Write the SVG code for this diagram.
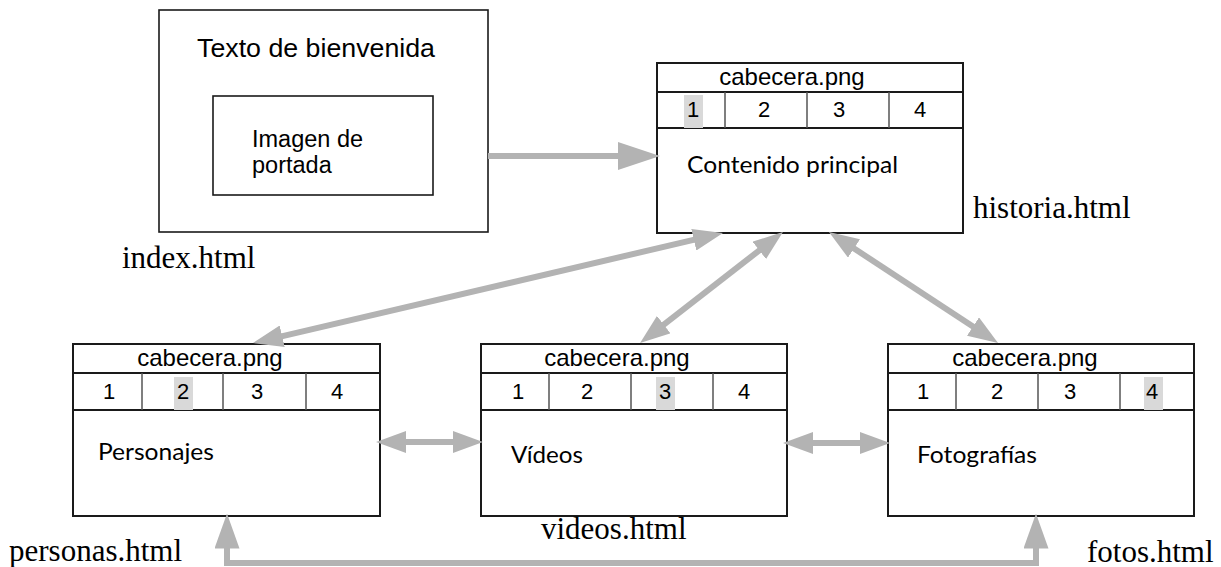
<svg xmlns="http://www.w3.org/2000/svg" width="1221" height="567" viewBox="0 0 1221 567">
<style>
.box{fill:#fff;stroke:#1a1a1a;stroke-width:2}
.thin{fill:none;stroke:#1a1a1a;stroke-width:1.6}
.div{stroke:#555;stroke-width:1.5}
.hl{fill:#d9d9d9}
.ar{font-family:"Liberation Sans",Arial,sans-serif;fill:#000}
.hd{font-size:24px;text-anchor:middle}
.dg{font-size:22px;text-anchor:middle}
.cal{font-family:Lato,"Open Sans",sans-serif;font-size:22.5px;fill:#000}
.lbl{font-family:"Liberation Serif","Times New Roman",serif;font-size:31px;fill:#000}
.con{fill:none;stroke:#b3b3b3;stroke-width:6;stroke-linejoin:miter}
</style>
<defs>
<marker id="h30" viewBox="0 0 30 22" refX="15" refY="11" markerWidth="30" markerHeight="22" markerUnits="userSpaceOnUse" orient="auto-start-reverse"><path d="M0,0 L30,11 L0,22 z" fill="#b3b3b3"/></marker>
<marker id="h42" viewBox="0 0 42 28" refX="21" refY="14" markerWidth="42" markerHeight="28" markerUnits="userSpaceOnUse" orient="auto-start-reverse"><path d="M0,0 L42,14 L0,28 z" fill="#b3b3b3"/></marker>
<marker id="h35" viewBox="0 0 35 25" refX="17.5" refY="12.5" markerWidth="35" markerHeight="25" markerUnits="userSpaceOnUse" orient="auto-start-reverse"><path d="M0,0 L35,12.5 L0,25 z" fill="#b3b3b3"/></marker>
</defs>
<rect width="1221" height="567" fill="#fff"/>

<g id="index">
<rect class="thin" x="159" y="10" width="329" height="222"/>
<text class="ar" x="197" y="57" font-size="25" textLength="238" lengthAdjust="spacingAndGlyphs">Texto de bienvenida</text>
<rect class="thin" x="213" y="96" width="220" height="99"/>
<text class="ar" x="252" y="147" font-size="23.5">Imagen de</text>
<text class="ar" x="252" y="173" font-size="23.5">portada</text>
<text class="lbl" x="122" y="268">index.html</text>
</g>

<g id="historia">
<rect class="box" x="657" y="63" width="306" height="170"/>
<line class="box" x1="657" y1="92" x2="963" y2="92"/>
<line class="box" x1="657" y1="128" x2="963" y2="128"/>
<rect class="hl" x="684" y="95" width="19" height="33"/>
<line class="div" x1="725" y1="92" x2="725" y2="128"/>
<line class="div" x1="807" y1="92" x2="807" y2="128"/>
<line class="div" x1="889" y1="92" x2="889" y2="128"/>
<text class="ar hd" x="792" y="85">cabecera.png</text>
<text class="ar dg" x="693" y="117">1</text>
<text class="ar dg" x="764" y="117">2</text>
<text class="ar dg" x="839" y="117">3</text>
<text class="ar dg" x="920" y="117">4</text>
<text class="cal" x="687" y="173" textLength="211" lengthAdjust="spacingAndGlyphs">Contenido principal</text>
<text class="lbl" x="973" y="218">historia.html</text>
</g>

<g id="personas">
<rect class="box" x="73" y="344" width="307" height="172"/>
<line class="box" x1="73" y1="373" x2="380" y2="373"/>
<line class="box" x1="73" y1="410" x2="380" y2="410"/>
<rect class="hl" x="174" y="377" width="19" height="33"/>
<line class="div" x1="142" y1="373" x2="142" y2="410"/>
<line class="div" x1="223" y1="373" x2="223" y2="410"/>
<line class="div" x1="306" y1="373" x2="306" y2="410"/>
<text class="ar hd" x="210" y="366">cabecera.png</text>
<text class="ar dg" x="109" y="399">1</text>
<text class="ar dg" x="183" y="399">2</text>
<text class="ar dg" x="257" y="399">3</text>
<text class="ar dg" x="337" y="399">4</text>
<text class="cal" x="98" y="460" textLength="116" lengthAdjust="spacingAndGlyphs">Personajes</text>
<text class="lbl" x="9" y="561">personas.html</text>
</g>

<g id="videos">
<rect class="box" x="481" y="344" width="306" height="172"/>
<line class="box" x1="481" y1="373" x2="787" y2="373"/>
<line class="box" x1="481" y1="410" x2="787" y2="410"/>
<rect class="hl" x="656" y="377" width="19" height="33"/>
<line class="div" x1="549" y1="373" x2="549" y2="410"/>
<line class="div" x1="631" y1="373" x2="631" y2="410"/>
<line class="div" x1="713" y1="373" x2="713" y2="410"/>
<text class="ar hd" x="617" y="366">cabecera.png</text>
<text class="ar dg" x="518" y="399">1</text>
<text class="ar dg" x="587" y="399">2</text>
<text class="ar dg" x="665" y="399">3</text>
<text class="ar dg" x="744" y="399">4</text>
<text class="cal" x="511" y="463" textLength="72" lengthAdjust="spacingAndGlyphs">Vídeos</text>
<text class="lbl" x="541" y="539">videos.html</text>
</g>

<g id="fotos">
<rect class="box" x="888" y="344" width="306" height="172"/>
<line class="box" x1="888" y1="373" x2="1194" y2="373"/>
<line class="box" x1="888" y1="410" x2="1194" y2="410"/>
<rect class="hl" x="1144" y="377" width="19" height="33"/>
<line class="div" x1="956" y1="373" x2="956" y2="410"/>
<line class="div" x1="1038" y1="373" x2="1038" y2="410"/>
<line class="div" x1="1120" y1="373" x2="1120" y2="410"/>
<text class="ar hd" x="1025" y="366">cabecera.png</text>
<text class="ar dg" x="923" y="399">1</text>
<text class="ar dg" x="997" y="399">2</text>
<text class="ar dg" x="1070" y="399">3</text>
<text class="ar dg" x="1152" y="399">4</text>
<text class="cal" x="917" y="463" textLength="120" lengthAdjust="spacingAndGlyphs">Fotografías</text>
<text class="lbl" x="1087" y="562">fotos.html</text>
</g>

<g id="connectors">
<line class="con" x1="488" y1="156" x2="639" y2="156" marker-end="url(#h42)"/>
<line class="con" x1="267.6" y1="339.6" x2="708.4" y2="236.4" marker-start="url(#h30)" marker-end="url(#h30)"/>
<line class="con" x1="651.9" y1="333.8" x2="771.1" y2="241.2" marker-start="url(#h30)" marker-end="url(#h30)"/>
<line class="con" x1="841.5" y1="240.2" x2="985.5" y2="334.8" marker-start="url(#h30)" marker-end="url(#h30)"/>
<line class="con" x1="391" y1="442" x2="468" y2="442" marker-start="url(#h30)" marker-end="url(#h30)"/>
<line class="con" x1="798" y1="443" x2="875" y2="443" marker-start="url(#h30)" marker-end="url(#h30)"/>
<path class="con" d="M227,531 L227,563 L1036,563 L1036,531" marker-start="url(#h35)" marker-end="url(#h35)"/>
</g>
</svg>
